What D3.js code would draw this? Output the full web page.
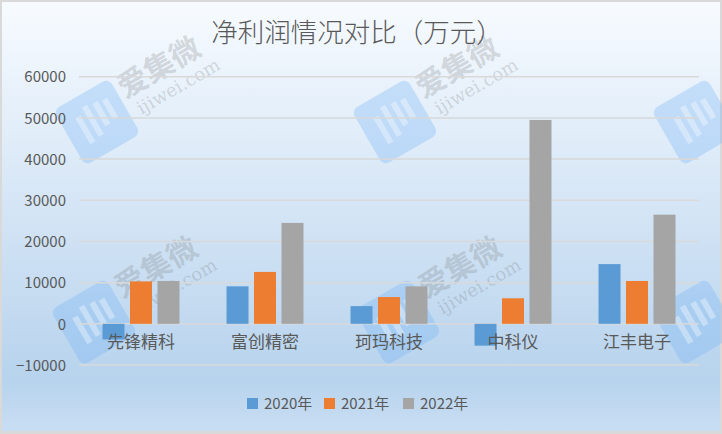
<!DOCTYPE html>
<html><head><meta charset="utf-8">
<script src="https://cdn.jsdelivr.net/npm/d3@7"></script>
<style>html,body{margin:0;padding:0;background:#d9d9d9;}svg{display:block;}</style>
</head><body>
<svg id="c" width="722" height="434"></svg>
<script>
const categories = ["先锋精科", "富创精密", "珂玛科技", "中科仪", "江丰电子"];
const seriesNames = ["2020年", "2021年", "2022年"];
const values2020 = [-3800, 9100, 4300, -5300, 14500];
const values2021 = [10300, 12600, 6500, 6200, 10400];
const values2022 = [10400, 24500, 9100, 49500, 26500];
const yTicks = [-10000, 0, 10000, 20000, 30000, 40000, 50000, 60000];
const colors = ["#5b9bd5", "#ed7d31", "#a5a5a5"];
const title = "净利润情况对比（万元）";

const seriesValues = [values2020, values2021, values2022];
const rows = categories.map((c, i) => ({cat: c, vals: seriesNames.map((s, j) => ({s, v: seriesValues[j][i]}))}));

const svg = d3.select("#c");
const defs = svg.append("defs");
const grad = defs.append("linearGradient").attr("id", "bg").attr("x1", 0).attr("y1", 0).attr("x2", 0).attr("y2", 1);
grad.append("stop").attr("offset", "0%").attr("stop-color", "#f7fbff");
grad.append("stop").attr("offset", "50%").attr("stop-color", "#d3e4f5");
grad.append("stop").attr("offset", "88%").attr("stop-color", "#b7d3ed");
grad.append("stop").attr("offset", "100%").attr("stop-color", "#c9def3");

svg.append("rect").attr("x", 2).attr("y", 2).attr("width", 718).attr("height", 429).attr("fill", "url(#bg)");

const font = "'Noto Sans CJK SC', 'Open Sans', sans-serif";

// watermarks
function watermark(x, y, withText) {
  const g = svg.append("g").attr("transform", `translate(${x},${y}) rotate(-30)`);
  g.append("rect").attr("x", -32).attr("y", -32).attr("width", 64).attr("height", 64).attr("rx", 7)
    .attr("fill", "rgba(110,175,245,0.30)");
  [[-17, -14, 6, 30], [-6, -20, 6, 34], [5, -18, 6, 26], [15, -16, 6, 22]].forEach(d => {
    g.append("rect").attr("x", d[0]).attr("y", d[1]).attr("width", d[2]).attr("height", d[3])
      .attr("fill", "rgba(255,255,255,0.35)");
  });
  if (!withText) return;
  g.append("text").attr("x", 36).attr("y", -6).attr("font-family", font).attr("font-size", 30).attr("font-weight", "bold")
    .attr("fill", "rgba(110,110,110,0.24)").text("爱集微");
  g.append("text").attr("x", 42).attr("y", 16).attr("font-family", "'DejaVu Serif', serif").attr("font-size", 18)
    .attr("fill", "rgba(110,110,110,0.24)").text("ijiwei.com");
}
[[97, 122, true], [94, 322, true], [395, 122, true], [398, 322, true], [695, 122, false], [695, 322, false]]
  .forEach(p => watermark(p[0], p[1], p[2]));

const x0 = d3.scaleBand().domain(categories).range([79, 699]).paddingInner(0.335).paddingOuter(0.1675);
const x1 = d3.scaleBand().domain(seriesNames).range([0, x0.bandwidth()]).paddingInner(0.2).paddingOuter(0.1);
const y = d3.scaleLinear().domain([-10000, 60000]).range([365, 76.7]);

// gridlines
svg.append("g").selectAll("line").data(yTicks).join("line")
  .attr("x1", 79).attr("x2", 699).attr("y1", d => y(d)).attr("y2", d => y(d))
  .attr("stroke", "#d9d9d9").attr("stroke-width", 1.5);

// y axis labels
const yAxis = d3.axisLeft(y).tickValues(yTicks).tickSize(0).tickPadding(0).tickFormat(d3.format("d"));
const ya = svg.append("g").attr("transform", "translate(66,0)").call(yAxis);
ya.select(".domain").remove();
ya.selectAll("text").attr("font-family", font).attr("font-size", 15).attr("fill", "#595959").attr("dy", "0.35em");

// bars
const groups = svg.append("g").selectAll("g").data(rows).join("g")
  .attr("transform", d => `translate(${x0(d.cat)},0)`);
groups.selectAll("rect").data(d => d.vals).join("rect")
  .attr("x", d => x1(d.s)).attr("width", x1.bandwidth())
  .attr("y", d => y(Math.max(0, d.v))).attr("height", d => Math.abs(y(d.v) - y(0)))
  .attr("fill", (d, i) => colors[i]);

// category labels
const xAxis = d3.axisBottom(x0).tickSize(0).tickPadding(0);
const xa = svg.append("g").attr("transform", `translate(0,${y(0)})`).call(xAxis);
xa.select(".domain").remove();
xa.selectAll("text").attr("font-family", font).attr("font-size", 17).attr("fill", "#595959").attr("dy", "1.45em");

// title
svg.append("text").attr("x", 357).attr("y", 42).attr("text-anchor", "middle")
  .attr("font-family", font).attr("font-size", 26.5).attr("font-weight", 300).attr("fill", "#595959").text(title);

// legend
const legX = [247, 324, 403];
const leg = svg.append("g").selectAll("g").data(seriesNames).join("g")
  .attr("transform", (d, i) => `translate(${legX[i]},398)`);
leg.append("rect").attr("width", 11).attr("height", 11).attr("fill", (d, i) => colors[i]);
leg.append("text").attr("x", 17).attr("y", 6).attr("dy", "0.35em").attr("font-family", font).attr("font-size", 15)
  .attr("fill", "#595959").text(d => d);
</script>
</body></html>
